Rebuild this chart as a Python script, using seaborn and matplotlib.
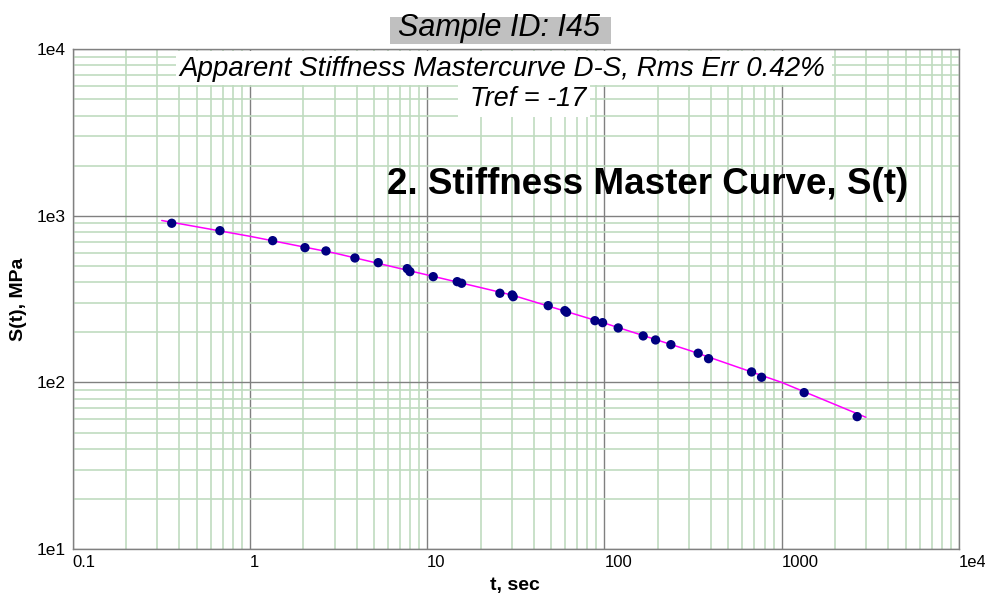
import matplotlib
matplotlib.use("Agg")
import matplotlib.pyplot as plt
import seaborn as sns
import pandas as pd
from matplotlib.patches import Rectangle
from matplotlib.ticker import LogLocator, NullFormatter

# ---- data ----
t_points = [0.362, 0.677, 1.343, 2.043, 2.684, 3.910, 5.292, 7.713, 7.988, 10.81,
            14.76, 15.63, 25.70, 30.16, 30.55, 48.14, 59.78, 61.12, 88.31, 97.57,
            119.5, 165.3, 194.2, 236.9, 337.7, 386.5, 675.5, 769.2, 1338, 2663]
s_points = [902.8, 815.0, 710.0, 644.5, 615.8, 558.7, 523.8, 482.2, 462.6, 431.6,
            402.7, 393.9, 343.1, 335.1, 327.3, 289.1, 269.8, 263.9, 234.9, 228.5,
            212.4, 190.2, 179.9, 168.6, 149.7, 138.9, 115.6, 107.4, 86.87, 62.33]

t_fit = [0.318, 1, 3, 10, 30, 100, 300, 1000, 2980]
s_fit = [938, 754, 598, 442, 335, 227, 156, 100, 61.8]

x_ticks = [0.1, 1, 10, 100, 1000, 10000]
x_tick_labels = ["0.1", "1", "10", "100", "1000", "1e4"]
y_ticks = [10, 100, 1000, 10000]
y_tick_labels = ["1e1", "1e2", "1e3", "1e4"]

title_text = "Sample ID: I45"
subtitle_text = "Apparent Stiffness Mastercurve D-S, Rms Err 0.42%"
tref_text = "Tref = -17"
big_text = "2. Stiffness Master Curve, S(t)"
x_label = "t, sec"
y_label = "S(t), MPa"

df_pts = pd.DataFrame({"t": t_points, "S": s_points})
df_fit = pd.DataFrame({"t": t_fit, "S": s_fit})

sns.set_theme(style="white")
plt.rcParams["font.family"] = ["Liberation Sans", "DejaVu Sans"]

W, H = 985, 597
fig = plt.figure(figsize=(W / 100, H / 100), dpi=100)
fig.patch.set_facecolor("white")
L, R, T, B = 72.7, 959.0, 49.3, 549.0
ax = fig.add_axes([L / W, 1 - B / H, (R - L) / W, (B - T) / H])
ax.set_facecolor("white")
ax.set_xscale("log")
ax.set_yscale("log")
ax.set_xlim(0.1, 1e4)
ax.set_ylim(10, 1e4)

ax.xaxis.set_minor_locator(LogLocator(base=10, subs=range(2, 10), numticks=50))
ax.yaxis.set_minor_locator(LogLocator(base=10, subs=range(2, 10), numticks=50))
ax.xaxis.set_minor_formatter(NullFormatter())
ax.yaxis.set_minor_formatter(NullFormatter())
ax.grid(which="minor", color="#C0DCC0", lw=1.2)
ax.grid(which="major", color="#808080", lw=1.0)
ax.set_axisbelow(True)

sns.lineplot(data=df_fit, x="t", y="S", color="#FF00FF", lw=1.1, ax=ax,
             estimator=None, sort=False, zorder=2)
sns.scatterplot(data=df_pts, x="t", y="S", color="#000080", s=45,
                edgecolor="none", ax=ax, zorder=3)

ax.set_xticks(x_ticks, x_tick_labels)
ax.set_yticks(y_ticks, y_tick_labels)
ax.set_xlim(0.1, 1e4)
ax.set_ylim(10, 1e4)
ax.tick_params(axis="both", which="both", length=0, colors="black")
ax.tick_params(axis="x", pad=4.3, labelsize=12)
ax.tick_params(axis="y", pad=5, labelsize=12.5)
for lab in ax.get_xticklabels():
    lab.set_ha("left")

for sp in ax.spines.values():
    sp.set_color("#808080")
    sp.set_linewidth(1.0)
    sp.set_visible(True)

ax.set_xlabel(x_label, fontsize=14, fontweight="bold", color="black")
ax.set_ylabel(y_label, fontsize=14, fontweight="bold", color="black")
ax.xaxis.set_label_coords((515 - L) / (R - L), (B - 577) / (B - T))
ax.yaxis.set_label_coords((27 - L) / (R - L), (B - 299) / (B - T))


def fx(x):
    return x / W


def fy(y):
    return 1 - y / H


def box(x0, y0, x1, y1, color):
    fig.add_artist(Rectangle((fx(x0), fy(y1)), fx(x1) - fx(x0), fy(y0) - fy(y1),
                             transform=fig.transFigure, facecolor=color,
                             edgecolor="none", zorder=5))


box(390, 17, 611, 44, "#C0C0C0")
box(176, 50.5, 832, 85, "white")
box(458, 85, 590, 117, "white")

fig.text(fx(498.5), fy(36.3), title_text, ha="center", va="baseline",
         fontsize=22, style="italic", color="black", zorder=6)
fig.text(fx(502), fy(76.3), subtitle_text, ha="center", va="baseline",
         fontsize=20, style="italic", color="black", zorder=6)
fig.text(fx(528.5), fy(106), tref_text, ha="center", va="baseline",
         fontsize=19.5, style="italic", color="black", zorder=6)
fig.text(fx(647.7), fy(194), big_text, ha="center", va="baseline",
         fontsize=26.5, fontweight="bold", color="black", zorder=6)

fig.savefig("out.png", dpi=100, facecolor="white")
